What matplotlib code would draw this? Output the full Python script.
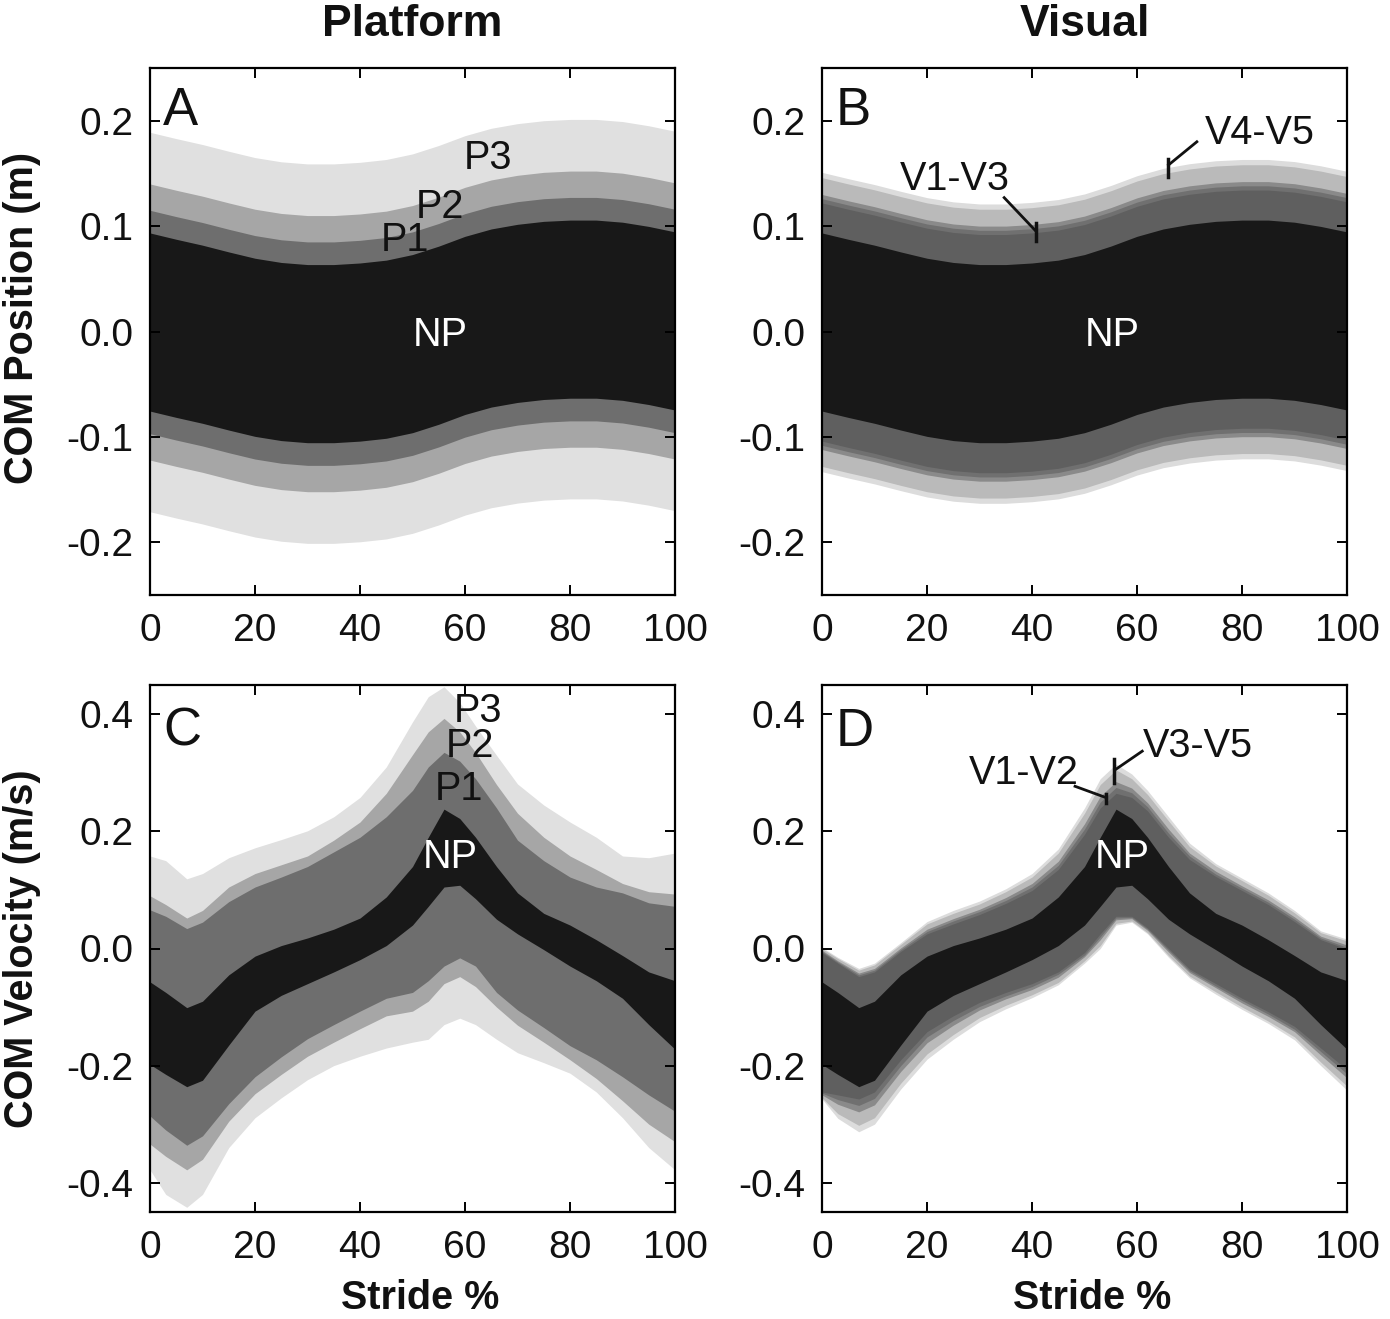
import numpy as np
import matplotlib
matplotlib.use("Agg")
import matplotlib.pyplot as plt

plt.rcParams['axes.unicode_minus'] = False
plt.rcParams['font.family'] = ['Liberation Sans', 'DejaVu Sans']
LABEL_FONT = ['Liberation Sans', 'DejaVu Sans']

# ---------------- Position data (panels A, B) ----------------
stride_pos = [0, 5, 10, 15, 20, 25, 30, 35, 40, 45, 50, 55, 60, 65, 70, 75, 80, 85, 90, 95, 100]
com_pos_mean = [0.009, 0.003, -0.0026, -0.009, -0.015, -0.019, -0.021, -0.021, -0.0195, -0.0168,
                -0.0115, -0.0035, 0.0058, 0.0128, 0.0172, 0.0200, 0.0212, 0.0212, 0.0192, 0.0152, 0.0100]
# half-width (SD) of each band
platform_conditions = ['P3', 'P2', 'P1', 'NP']
platform_pos_sd = [0.180, 0.131, 0.106, 0.0845]
visual_conditions = ['V5', 'V4', 'V3', 'V2', 'V1', 'NP']
visual_pos_sd = [0.142, 0.137, 0.121, 0.117, 0.113, 0.0845]

# ---------------- Velocity data (panels C, D) ----------------
stride_vel = [0, 3, 7, 10, 15, 20, 25, 30, 35, 40, 45, 50, 53, 56, 59, 62, 66, 70, 75, 80, 85, 90, 95, 100]

np_vel_upper = [-0.057, -0.075, -0.101, -0.090, -0.045, -0.013, 0.005, 0.018, 0.033, 0.052, 0.088, 0.140,
                0.190, 0.238, 0.222, 0.190, 0.140, 0.095, 0.060, 0.040, 0.015, -0.012, -0.040, -0.055]
np_vel_lower = [-0.198, -0.215, -0.236, -0.225, -0.165, -0.107, -0.080, -0.060, -0.040, -0.019, 0.005, 0.040,
                0.072, 0.105, 0.108, 0.085, 0.050, 0.025, -0.002, -0.030, -0.055, -0.085, -0.130, -0.172]

p1_vel_upper = [0.066, 0.055, 0.034, 0.045, 0.080, 0.105, 0.122, 0.140, 0.165, 0.190, 0.225, 0.270,
                0.310, 0.335, 0.320, 0.290, 0.240, 0.185, 0.150, 0.122, 0.105, 0.095, 0.078, 0.072]
p1_vel_lower = [-0.286, -0.310, -0.336, -0.320, -0.265, -0.219, -0.185, -0.154, -0.130, -0.107, -0.085, -0.075,
                -0.055, -0.030, -0.016, -0.030, -0.075, -0.105, -0.135, -0.166, -0.190, -0.219, -0.250, -0.278]

p2_vel_upper = [0.090, 0.075, 0.052, 0.065, 0.105, 0.128, 0.143, 0.158, 0.185, 0.216, 0.265, 0.331,
                0.370, 0.393, 0.370, 0.335, 0.280, 0.231, 0.190, 0.158, 0.135, 0.111, 0.097, 0.093]
p2_vel_lower = [-0.334, -0.355, -0.378, -0.360, -0.295, -0.248, -0.215, -0.184, -0.160, -0.137, -0.115, -0.107,
                -0.090, -0.060, -0.048, -0.065, -0.100, -0.131, -0.160, -0.190, -0.222, -0.260, -0.300, -0.330]

p3_vel_upper = [0.158, 0.150, 0.119, 0.128, 0.155, 0.172, 0.186, 0.201, 0.225, 0.258, 0.310, 0.387,
                0.430, 0.447, 0.420, 0.380, 0.330, 0.281, 0.245, 0.216, 0.190, 0.158, 0.155, 0.163]
p3_vel_lower = [-0.378, -0.420, -0.442, -0.420, -0.340, -0.289, -0.255, -0.224, -0.200, -0.184, -0.170, -0.160,
                -0.155, -0.130, -0.119, -0.130, -0.155, -0.178, -0.195, -0.213, -0.245, -0.289, -0.340, -0.378]

v1_vel_upper = [-0.007, -0.025, -0.048, -0.040, -0.005, 0.025, 0.042, 0.058, 0.077, 0.099, 0.135, 0.195,
                0.240, 0.265, 0.258, 0.235, 0.190, 0.152, 0.123, 0.099, 0.075, 0.046, 0.015, -0.001]
v1_vel_lower = [-0.245, -0.250, -0.257, -0.245, -0.190, -0.142, -0.115, -0.092, -0.075, -0.060, -0.040, -0.007,
                0.025, 0.055, 0.055, 0.035, 0.000, -0.035, -0.060, -0.085, -0.108, -0.133, -0.170, -0.207]
v2_vel_upper = [-0.005, -0.023, -0.045, -0.037, -0.002, 0.029, 0.047, 0.063, 0.082, 0.105, 0.142, 0.204,
                0.250, 0.275, 0.266, 0.242, 0.197, 0.158, 0.127, 0.103, 0.079, 0.050, 0.018, 0.002]
v2_vel_lower = [-0.247, -0.258, -0.268, -0.256, -0.200, -0.151, -0.123, -0.099, -0.081, -0.065, -0.044, -0.011,
                0.020, 0.052, 0.053, 0.033, -0.003, -0.038, -0.064, -0.089, -0.112, -0.138, -0.176, -0.214]
v3_vel_upper = [-0.003, -0.021, -0.042, -0.034, 0.001, 0.033, 0.051, 0.067, 0.087, 0.111, 0.149, 0.213,
                0.260, 0.285, 0.274, 0.249, 0.204, 0.163, 0.132, 0.107, 0.083, 0.054, 0.021, 0.006]
v3_vel_lower = [-0.250, -0.266, -0.279, -0.267, -0.210, -0.161, -0.131, -0.105, -0.086, -0.070, -0.049, -0.014,
                0.015, 0.049, 0.051, 0.031, -0.006, -0.041, -0.067, -0.093, -0.116, -0.142, -0.182, -0.221]
v4_vel_upper = [0.000, -0.017, -0.037, -0.028, 0.007, 0.042, 0.060, 0.076, 0.097, 0.122, 0.163, 0.231,
                0.280, 0.305, 0.290, 0.263, 0.218, 0.174, 0.141, 0.116, 0.091, 0.061, 0.027, 0.013]
v4_vel_lower = [-0.255, -0.282, -0.302, -0.289, -0.230, -0.180, -0.147, -0.118, -0.097, -0.079, -0.058, -0.021,
                0.005, 0.043, 0.047, 0.027, -0.012, -0.047, -0.074, -0.100, -0.124, -0.151, -0.194, -0.235]
v5_vel_upper = [0.002, -0.015, -0.034, -0.025, 0.010, 0.046, 0.065, 0.081, 0.102, 0.128, 0.170, 0.240,
                0.290, 0.315, 0.298, 0.270, 0.225, 0.180, 0.145, 0.120, 0.095, 0.065, 0.030, 0.016]
v5_vel_lower = [-0.257, -0.290, -0.313, -0.300, -0.240, -0.189, -0.155, -0.125, -0.103, -0.084, -0.062, -0.025,
                0.000, 0.040, 0.045, 0.025, -0.015, -0.050, -0.078, -0.104, -0.128, -0.156, -0.200, -0.242]

platform_colors = ['#e0e0e0', '#a6a6a6', '#6e6e6e', '#181818']
visual_colors = ['#dcdcdc', '#bababa', '#8a8a8a', '#707070', '#5f5f5f', '#181818']

xticks = [0, 20, 40, 60, 80, 100]
pos_yticks = [-0.2, -0.1, 0.0, 0.1, 0.2]
vel_yticks = [-0.4, -0.2, 0.0, 0.2, 0.4]

W, H = 1390, 1319
fig = plt.figure(figsize=(W / 100, H / 100), dpi=100)


def make_ax(l, t, r, b):
    return fig.add_axes([l / W, 1 - b / H, (r - l) / W, (b - t) / H])


axA = make_ax(150, 68, 675, 595)
axB = make_ax(822, 68, 1347, 595)
axC = make_ax(150, 685, 675, 1212)
axD = make_ax(822, 685, 1347, 1212)

# Panel A
xp = np.array(stride_pos)
mp = np.array(com_pos_mean)
for sd, c in zip(platform_pos_sd, platform_colors):
    axA.fill_between(xp, mp - sd, mp + sd, color=c, lw=0)
# Panel B
for sd, c in zip(visual_pos_sd, visual_colors):
    axB.fill_between(xp, mp - sd, mp + sd, color=c, lw=0)

# Panel C
xv = np.array(stride_vel)
for (lo, up), c in zip([(p3_vel_lower, p3_vel_upper), (p2_vel_lower, p2_vel_upper),
                        (p1_vel_lower, p1_vel_upper), (np_vel_lower, np_vel_upper)], platform_colors):
    axC.fill_between(xv, lo, up, color=c, lw=0)
# Panel D
for (lo, up), c in zip([(v5_vel_lower, v5_vel_upper), (v4_vel_lower, v4_vel_upper),
                        (v3_vel_lower, v3_vel_upper), (v2_vel_lower, v2_vel_upper),
                        (v1_vel_lower, v1_vel_upper), (np_vel_lower, np_vel_upper)], visual_colors):
    axD.fill_between(xv, lo, up, color=c, lw=0)

for ax, ylim, yt in [(axA, 0.25, pos_yticks), (axB, 0.25, pos_yticks),
                     (axC, 0.45, vel_yticks), (axD, 0.45, vel_yticks)]:
    ax.set_xlim(0, 100)
    ax.set_ylim(-ylim, ylim)
    ax.set_xticks(xticks)
    ax.set_yticks(yt)
    ax.set_yticklabels(['%.1f' % v for v in yt])
    ax.tick_params(direction='in', top=True, right=True, length=7, width=1.4,
                   labelsize=28, pad=12, labelcolor='#111111')
    ax.tick_params(axis='x', pad=13)
    for s in ax.spines.values():
        s.set_linewidth(1.6)

ANN = 28.5
txt = dict(fontsize=ANN, ha='center', va='center', color='#111111')
# panel letters
for ax, letter, y in [(axA, 'A', 0.209), (axB, 'B', 0.209), (axC, 'C', 0.37), (axD, 'D', 0.37)]:
    ax.text(2.5, y, letter, fontsize=38, ha='left', va='center', color='#111111')

# NP labels
for ax, x, y in [(axA, 55.2, -0.003), (axB, 55.2, -0.003), (axC, 57.1, 0.157), (axD, 57.1, 0.157)]:
    ax.text(x, y, 'NP', fontsize=ANN, ha='center', va='center', color='white')

axA.text(64.4, 0.165, 'P3', **txt)
axA.text(55.2, 0.118, 'P2', **txt)
axA.text(48.6, 0.087, 'P1', **txt)

axC.text(62.5, 0.405, 'P3', **txt)
axC.text(61.0, 0.345, 'P2', **txt)
axC.text(58.9, 0.272, 'P1', **txt)

# Visual annotations
axB.text(25.3, 0.145, 'V1-V3', **txt)
axB.plot([34.7, 40.6], [0.127, 0.096], color='#111111', lw=2)
axB.plot([40.8, 40.8], [0.086, 0.103], color='#111111', lw=2.5)
axB.text(83.4, 0.188, 'V4-V5', **txt)
axB.plot([71.4, 66.0], [0.180, 0.158], color='#111111', lw=2)
axB.plot([65.9, 65.9], [0.147, 0.164], color='#111111', lw=2.5)

axD.text(38.5, 0.299, 'V1-V2', **txt)
axD.plot([48.2, 54.0], [0.277, 0.258], color='#111111', lw=2)
axD.plot([54.1, 54.1], [0.248, 0.264], color='#111111', lw=2.5)
axD.text(71.6, 0.345, 'V3-V5', **txt)
axD.plot([61.0, 55.8], [0.337, 0.305], color='#111111', lw=2)
axD.plot([55.6, 55.6], [0.282, 0.323], color='#111111', lw=2.5)

# Titles and labels
lab = dict(family=LABEL_FONT, fontweight='bold', color='#111111')
fig.text(412.5 / W, 1 - 25 / H, 'Platform', fontsize=32, ha='center', va='center', **lab)
fig.text(1084.5 / W, 1 - 25 / H, 'Visual', fontsize=32, ha='center', va='center', **lab)
fig.text(22 / W, 1 - 318 / H, 'COM Position (m)', fontsize=28.5, rotation=90, ha='center', va='center', **lab)
fig.text(22 / W, 1 - 948.5 / H, 'COM Velocity (m/s)', fontsize=28.5, rotation=90, ha='center', va='center', **lab)
fig.text(420 / W, 1 - 1298 / H, 'Stride %', fontsize=28.5, ha='center', va='center', **lab)
fig.text(1092 / W, 1 - 1298 / H, 'Stride %', fontsize=28.5, ha='center', va='center', **lab)

fig.savefig('out.png', dpi=100)
